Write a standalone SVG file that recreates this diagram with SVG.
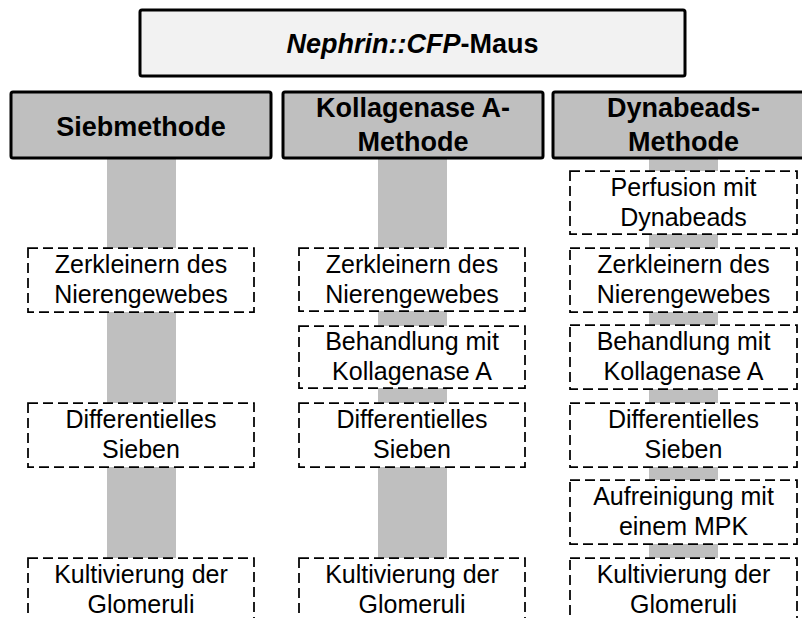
<svg xmlns="http://www.w3.org/2000/svg" width="802" height="618" viewBox="0 0 802 618">
<style>
.top{fill:#F2F2F2;stroke:#000;stroke-width:3}
.hdr{fill:#BFBFBF;stroke:#000;stroke-width:3}
.step{fill:#fff;stroke:#000;stroke-width:1.75;stroke-dasharray:10 5}
.bar{fill:#BFBFBF}
.ht{font-family:"Liberation Sans",Arial,sans-serif;font-weight:bold;font-size:27px;text-anchor:middle;fill:#000}
.st{font-family:"Liberation Sans",Arial,sans-serif;font-size:25px;text-anchor:middle;fill:#000}
</style>
<rect width="802" height="618" fill="#fff"/>
<g id="connectors">
<rect class="bar" x="107" y="158" width="69" height="90"/>
<rect class="bar" x="107" y="312" width="69" height="91"/>
<rect class="bar" x="107" y="467" width="69" height="91"/>
<rect class="bar" x="378" y="158" width="69" height="90"/>
<rect class="bar" x="378" y="311" width="69" height="15"/>
<rect class="bar" x="378" y="388" width="69" height="15"/>
<rect class="bar" x="378" y="467" width="69" height="91"/>
<rect class="bar" x="649" y="158" width="69" height="13"/>
<rect class="bar" x="649" y="234" width="69" height="14"/>
<rect class="bar" x="649" y="312" width="69" height="13"/>
<rect class="bar" x="649" y="389" width="69" height="14"/>
<rect class="bar" x="649" y="467" width="69" height="13"/>
<rect class="bar" x="649" y="544" width="69" height="14"/>
</g>
<g id="maus">
<rect class="top" x="140" y="10" width="545" height="66" rx="2"/>
<text class="ht" x="412.5" y="53"><tspan font-style="italic">Nephrin::CFP</tspan>-Maus</text>
</g>
<g id="siebmethode">
<rect class="hdr" x="11" y="92" width="260" height="66" rx="2"/>
<text class="ht" x="141" y="136">Siebmethode</text>
</g>
<g id="kollagenase">
<rect class="hdr" x="283" y="92" width="260" height="66" rx="2"/>
<text class="ht" x="413" y="117">Kollagenase A-</text>
<text class="ht" x="413" y="151">Methode</text>
</g>
<g id="dynabeads">
<rect class="hdr" x="553" y="92" width="262" height="66" rx="2"/>
<text class="ht" x="683.5" y="117">Dynabeads-</text>
<text class="ht" x="683.5" y="151">Methode</text>
</g>
<g id="s1">
<rect class="step" x="28" y="248" width="226" height="64"/>
<text class="st" x="141" y="273">Zerkleinern des</text>
<text class="st" x="141" y="303">Nierengewebes</text>
</g>
<g id="s2">
<rect class="step" x="28" y="403" width="226" height="64"/>
<text class="st" x="141" y="428">Differentielles</text>
<text class="st" x="141" y="458">Sieben</text>
</g>
<g id="s3">
<rect class="step" x="28" y="558" width="226" height="64"/>
<text class="st" x="141" y="583">Kultivierung der</text>
<text class="st" x="141" y="613">Glomeruli</text>
</g>
<g id="k1">
<rect class="step" x="299" y="248" width="226" height="63"/>
<text class="st" x="412" y="273">Zerkleinern des</text>
<text class="st" x="412" y="303">Nierengewebes</text>
</g>
<g id="k2">
<rect class="step" x="299" y="326" width="226" height="62"/>
<text class="st" x="412" y="350">Behandlung mit</text>
<text class="st" x="412" y="380">Kollagenase A</text>
</g>
<g id="k3">
<rect class="step" x="299" y="403" width="226" height="64"/>
<text class="st" x="412" y="428">Differentielles</text>
<text class="st" x="412" y="458">Sieben</text>
</g>
<g id="k4">
<rect class="step" x="299" y="558" width="226" height="64"/>
<text class="st" x="412" y="583">Kultivierung der</text>
<text class="st" x="412" y="613">Glomeruli</text>
</g>
<g id="d1">
<rect class="step" x="570" y="171" width="227" height="63"/>
<text class="st" x="683.5" y="196">Perfusion mit</text>
<text class="st" x="683.5" y="226">Dynabeads</text>
</g>
<g id="d2">
<rect class="step" x="570" y="248" width="227" height="64"/>
<text class="st" x="683.5" y="273">Zerkleinern des</text>
<text class="st" x="683.5" y="303">Nierengewebes</text>
</g>
<g id="d3">
<rect class="step" x="570" y="325" width="227" height="64"/>
<text class="st" x="683.5" y="350">Behandlung mit</text>
<text class="st" x="683.5" y="380">Kollagenase A</text>
</g>
<g id="d4">
<rect class="step" x="570" y="403" width="227" height="64"/>
<text class="st" x="683.5" y="428">Differentielles</text>
<text class="st" x="683.5" y="458">Sieben</text>
</g>
<g id="d5">
<rect class="step" x="570" y="480" width="227" height="64"/>
<text class="st" x="683.5" y="505">Aufreinigung mit</text>
<text class="st" x="683.5" y="535">einem MPK</text>
</g>
<g id="d6">
<rect class="step" x="570" y="558" width="227" height="64"/>
<text class="st" x="683.5" y="583">Kultivierung der</text>
<text class="st" x="683.5" y="613">Glomeruli</text>
</g>
</svg>
